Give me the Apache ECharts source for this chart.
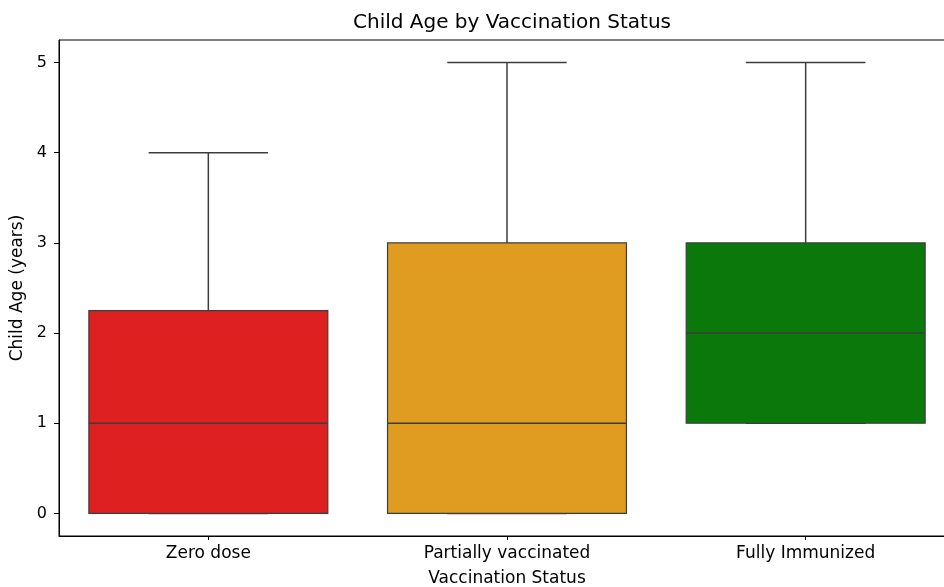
<!DOCTYPE html>
<html>
<head>
<meta charset="utf-8">
<script src="https://cdn.jsdelivr.net/npm/echarts@6/dist/echarts.min.js"></script>
<style>
  html, body { margin: 0; padding: 0; background: #fff; overflow: hidden; }
  /* the plot frame runs slightly past the right edge of the window */
  #chart { width: 955px; height: 587px; }
</style>
</head>
<body>
<div id="chart"></div>
<script>
// Vaccination groups and their box-plot summaries (child age, years)
const categories = ['Zero dose', 'Partially vaccinated', 'Fully Immunized'];
const whiskerLow = [0, 0, 1];
const q1 = [0, 0, 1];
const median = [1, 1, 2];
const q3 = [2.25, 3, 3];
const whiskerHigh = [4, 5, 5];
const boxColors = ['#df2020', '#df9c20', '#0a780a'];
const yTicks = [0, 1, 2, 3, 4, 5];

const lineColor = '#3d3d3d';
const FONT = 'DejaVu Sans';

const seriesData = categories.map((c, i) => [i, whiskerLow[i], q1[i], median[i], q3[i], whiskerHigh[i]]);

function renderBox(params, api) {
  const idx = api.value(0);
  const band = api.size([1, 0])[0];
  const boxW = band * 0.8;
  const capW = band * 0.4;
  const pLow = api.coord([idx, api.value(1)]);
  const pQ1 = api.coord([idx, api.value(2)]);
  const pMed = api.coord([idx, api.value(3)]);
  const pQ3 = api.coord([idx, api.value(4)]);
  const pHigh = api.coord([idx, api.value(5)]);
  const cx = pMed[0];
  const lineStyle = { stroke: lineColor, lineWidth: 1.5 };
  const line = (x1, y1, x2, y2) => ({ type: 'line', shape: { x1, y1, x2, y2 }, style: lineStyle });
  return {
    type: 'group',
    children: [
      line(cx, pQ3[1], cx, pHigh[1]),
      line(cx, pQ1[1], cx, pLow[1]),
      line(cx - capW / 2, pHigh[1], cx + capW / 2, pHigh[1]),
      line(cx - capW / 2, pLow[1], cx + capW / 2, pLow[1]),
      {
        type: 'rect',
        shape: { x: cx - boxW / 2, y: pQ3[1], width: boxW, height: pQ1[1] - pQ3[1] },
        style: { fill: boxColors[idx], stroke: lineColor, lineWidth: 1.2 }
      },
      line(cx - boxW / 2, pMed[1], cx + boxW / 2, pMed[1])
    ]
  };
}

const chart = echarts.init(document.getElementById('chart'), null, { renderer: 'canvas' });
chart.setOption({
  animation: false,
  backgroundColor: '#fff',
  title: {
    text: 'Child Age by Vaccination Status',
    left: 507, top: 8, textAlign: 'center',
    textStyle: { fontFamily: FONT, fontSize: 20, fontWeight: 'normal', color: '#000' }
  },
  grid: {
    left: 59, top: 40, right: 0, bottom: 51,
    outerBoundsMode: 'none',
    show: true, borderColor: '#000', borderWidth: 1, backgroundColor: 'transparent',
    containLabel: false
  },
  xAxis: {
    type: 'category',
    data: categories,
    boundaryGap: true,
    name: 'Vaccination Status',
    nameLocation: 'middle',
    nameGap: 34,
    nameTextStyle: { fontFamily: FONT, fontSize: 17, color: '#000' },
    axisLine: { show: true, onZero: false, lineStyle: { color: '#000', width: 1 } },
    axisTick: { show: true, alignWithLabel: true, length: 4, lineStyle: { color: '#000' } },
    axisLabel: { fontFamily: FONT, fontSize: 17, color: '#000', margin: 9 },
    splitLine: { show: false }
  },
  yAxis: {
    type: 'value',
    min: -0.25, max: 5.25,
    name: 'Child Age (years)',
    nameLocation: 'middle',
    nameGap: 31,
    nameTextStyle: { fontFamily: FONT, fontSize: 17, color: '#000' },
    axisLine: { show: true, onZero: false, lineStyle: { color: '#000', width: 1 } },
    axisTick: { show: true, length: 5, customValues: yTicks, lineStyle: { color: '#000' } },
    axisLabel: { fontFamily: FONT, fontSize: 16, color: '#000', margin: 12, customValues: yTicks },
    splitLine: { show: false }
  },
  series: [{
    type: 'custom',
    renderItem: renderBox,
    encode: { x: 0, y: [1, 2, 3, 4, 5] },
    data: seriesData,
    clip: false
  }]
});
</script>
</body>
</html>
